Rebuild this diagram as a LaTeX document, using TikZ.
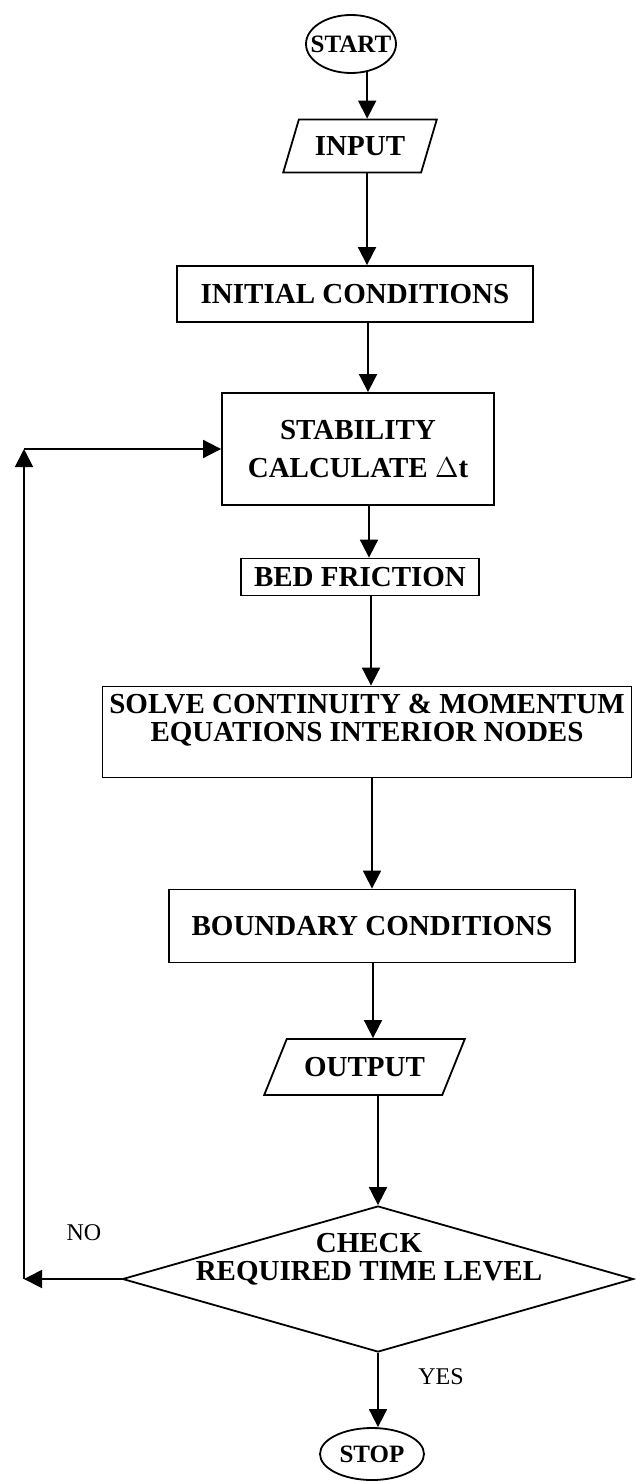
\documentclass[tikz,border=0pt]{standalone}
\usepackage{fontspec}
\setmainfont{Liberation Serif}
\usetikzlibrary{shapes.geometric, arrows.meta, positioning}
\newcommand{\boxfont}{\fontsize{14.5}{14}\selectfont\bfseries}
\newcommand{\termfont}{\fontsize{12.5}{15}\selectfont\bfseries}
\newcommand{\lblfont}{\fontsize{12}{14}\selectfont}

\begin{document}
\begin{tikzpicture}[x=0.5pt, y=-0.5pt,
  term/.style={ellipse, draw, line width=0.9pt, font=\termfont, inner ysep=0pt},
  io/.style={trapezium, trapezium stretches=true, draw, line width=0.9pt,
             font=\boxfont, inner sep=0pt},
  proc/.style={rectangle, draw, line width=0.9pt, font=\boxfont, align=center,
               inner sep=0pt},
  decision/.style={diamond, draw, line width=0.9pt, inner sep=0pt},
  lbl/.style={font=\lblfont},
  arr/.style={-{Triangle[width=9pt, length=9pt]}, line width=0.9pt}
]
  \useasboundingbox (0,0) rectangle (636,1481);

  % Debut et entree
  \node[term, minimum width=45pt, minimum height=29pt, inner xsep=-5pt] (start) at (351,44) {START};
  \node[io, trapezium left angle=59, trapezium right angle=121,
        minimum width=77pt, minimum height=26.5pt] (input) at (360,146) {INPUT};

  % Calcul
  \node[proc, minimum width=178pt, minimum height=28pt] (init) at (355,294) {INITIAL CONDITIONS};
  \node[proc, minimum width=136pt, minimum height=56pt] (stab) at (358,449) {STABILITY\\[5pt]CALCULATE $\Delta$t};
  \node[proc, minimum width=119pt, minimum height=18.5pt] (bed) at (360,577) {BED FRICTION};
  \node[proc, minimum width=264.5pt, minimum height=45.5pt, text depth=14pt] (solve) at (367,732)
    {SOLVE CONTINUITY \& MOMENTUM\\EQUATIONS INTERIOR NODES};
  \node[proc, minimum width=203pt, minimum height=36.5pt] (bound) at (372,926) {BOUNDARY CONDITIONS};

  % Sortie et test
  \node[io, trapezium left angle=48, trapezium right angle=132,
        minimum width=100.5pt, minimum height=28pt] (output) at (364.5,1067) {OUTPUT};
  \node[decision, minimum width=255.5pt, minimum height=73pt] (check) at (378,1279) {};
  \node[font=\boxfont, align=center] (checktxt) at (369,1259) {CHECK\\REQUIRED TIME LEVEL};
  \node[term, minimum width=52pt, minimum height=26pt, inner xsep=1pt] (stop) at (372,1454) {STOP};

  % Fleches
  \draw[arr] (start.-60) -- (start.-60 |- input.north);
  \draw[arr] ([xshift=3.5pt]input.south) -- ([xshift=3.5pt]input.south |- init.north);
  \draw[arr] ([xshift=6.5pt]init.south) -- ([xshift=6.5pt]init.south |- stab.north);
  \draw[arr] ([xshift=5.5pt]stab.south) -- ([xshift=5.5pt]stab.south |- bed.north);
  \draw[arr] ([xshift=5.5pt]bed.south) -- ([xshift=5.5pt]bed.south |- solve.north);
  \draw[arr] ([xshift=2.5pt]solve.south) -- ([xshift=2.5pt]solve.south |- bound.north);
  \draw[arr] ([xshift=0.5pt]bound.south) -- ([xshift=0.5pt]bound.south |- output.north);
  \draw[arr] (check.north |- output.south) -- (check.north);
  \draw[arr] (check.south) -- (check.south |- stop.north);

  % Boucle de retour
  \coordinate (fbd) at (check.west -| 24,0);
  \coordinate (fbt) at (stab.west -| 24,0);
  \draw[arr] (check.west) -- (fbd);
  \draw[arr] (fbd) -- (fbt);
  \draw[arr] (fbt) -- (stab.west);

  % Etiquettes
  \node[lbl] (no) at (84,1233) {NO};
  \node[lbl] (yes) at (441,1377) {YES};
\end{tikzpicture}
\end{document}
